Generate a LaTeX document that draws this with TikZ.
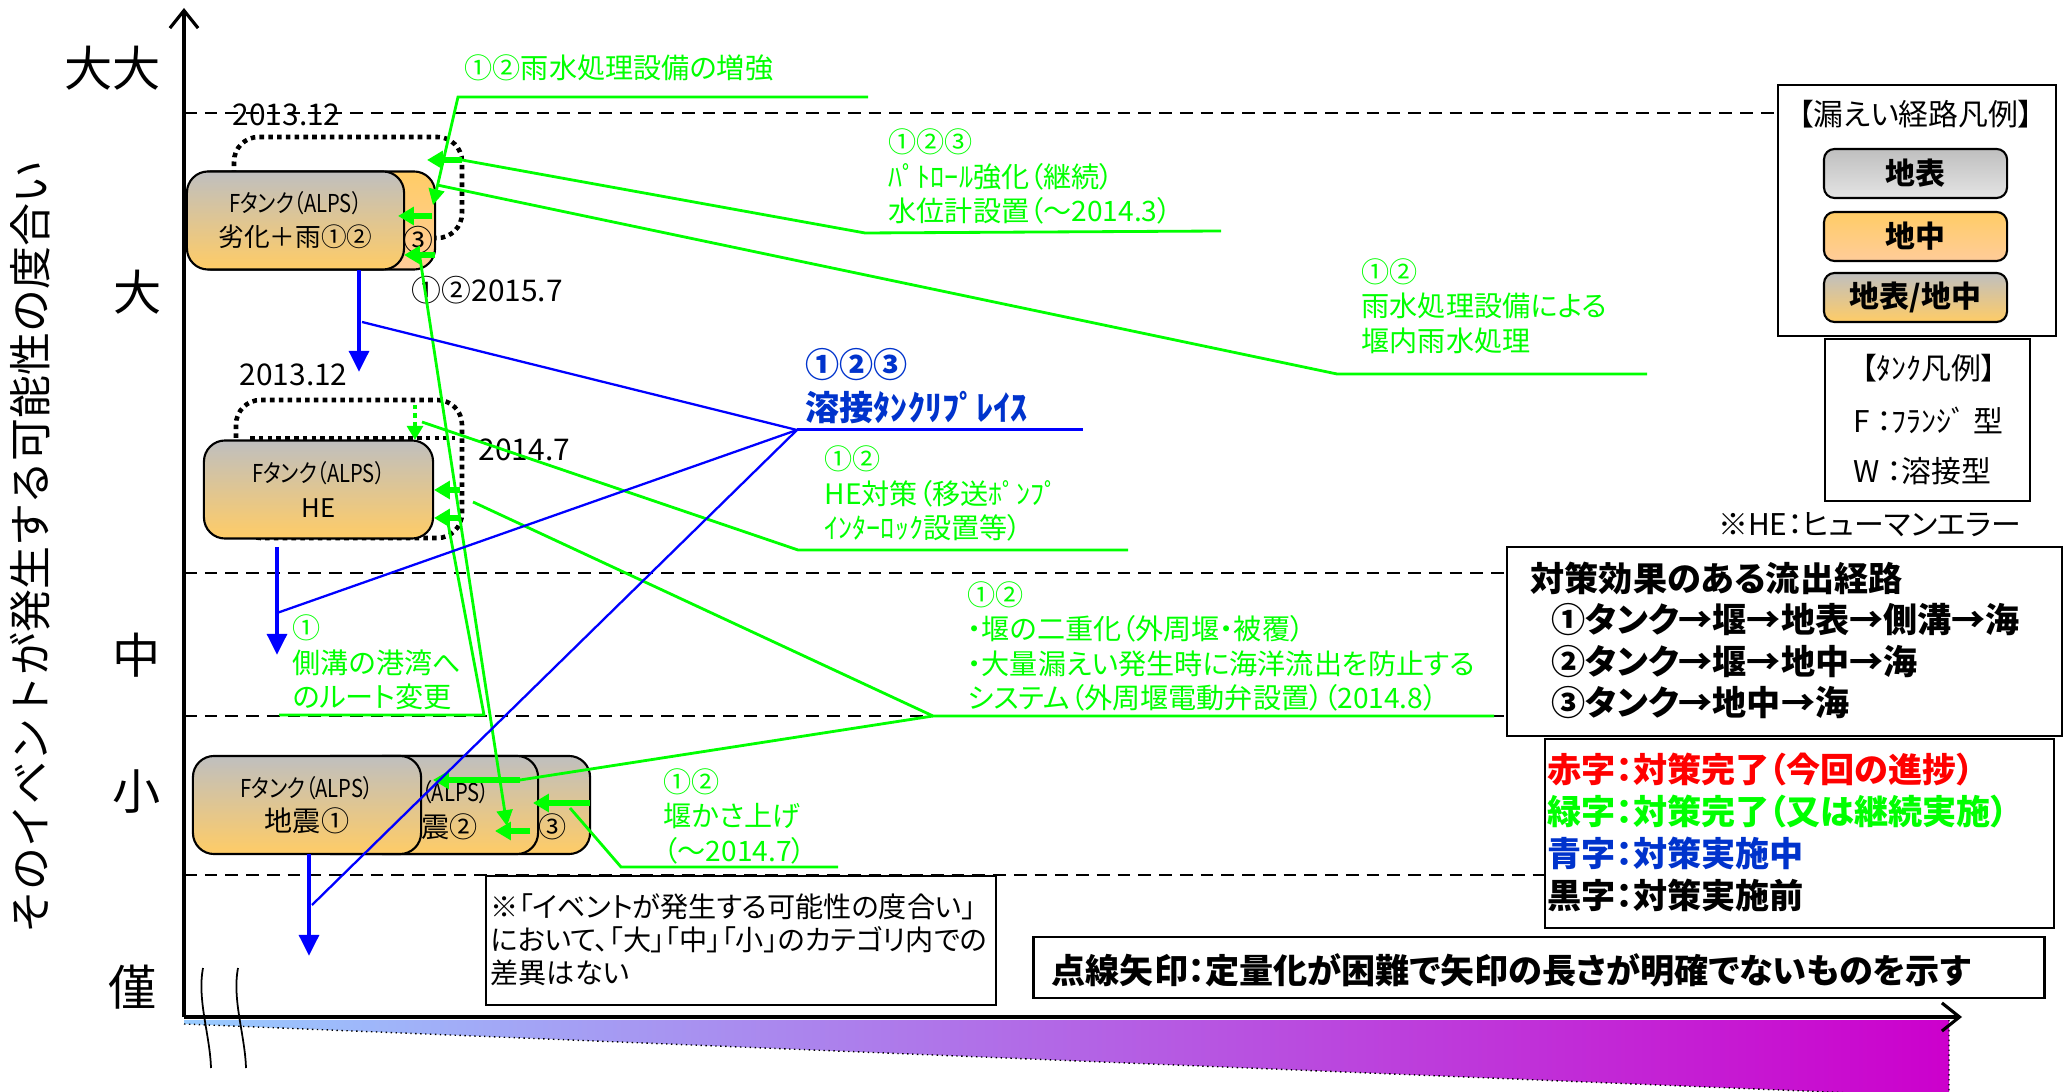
\documentclass[tikz,border=0pt]{standalone}
\usepackage{fontspec}
\newfontfamily\jp[RawFeature=+palt]{Noto Sans CJK JP}
\newfontfamily\jpfix{Noto Sans CJK JP}
\newfontfamily\jpnarrow[RawFeature=+palt, FakeStretch=0.82]{Noto Sans CJK JP}
\usetikzlibrary{arrows.meta, positioning}

\definecolor{lgreen}{RGB}{0,255,0}
\definecolor{dblue}{RGB}{0,0,255}
\definecolor{tblue}{RGB}{0,51,204}
\definecolor{tkgray}{RGB}{191,191,191}
\definecolor{tkorange}{RGB}{255,204,102}
\definecolor{tkpeach}{RGB}{255,204,153}
\definecolor{lggray}{RGB}{228,228,228}
\definecolor{wedgeL}{RGB}{153,204,255}
\definecolor{wedgeR}{RGB}{204,0,204}

\newcommand{\tkhead}{\jpnarrow\fontsize{7}{9.7}\selectfont}

\tikzset{
  lvl/.style={font=\jpfix\fontsize{13.7}{16}\selectfont, inner sep=0pt},
  dtext/.style={font=\jp\fontsize{8.5}{10}\selectfont, inner sep=0pt},
  gtext/.style={font=\jp\fontsize{8}{9.8}\selectfont, text=lgreen, inner sep=0pt, anchor=west, align=left},
  btext/.style={font=\jp\bfseries\fontsize{9.7}{11.9}\selectfont, inner sep=0pt, anchor=west, align=left},
  tank/.style={draw, line width=0.6pt, rounded corners=6pt, top color=tkgray, bottom color=tkorange,
    minimum height=0.98cm, inner sep=0pt, align=center, font=\jp\fontsize{7.3}{9.7}\selectfont},
  legbox/.style={draw, line width=0.6pt, rounded corners=3pt, minimum width=1.83cm, minimum height=0.49cm,
    inner sep=0pt, font=\jp\bfseries\fontsize{8.5}{10}\selectfont},
  box/.style={draw, line width=0.7pt, fill=white, inner sep=0pt},
  gline/.style={draw=lgreen, line width=0.8pt},
  garrow/.style={draw=lgreen, line width=1.6pt, -{Triangle[length=4.5pt, width=5pt]}},
  bline/.style={draw=dblue, line width=0.65pt},
  barrow/.style={draw=dblue, line width=1.4pt, -{Triangle[length=6pt, width=5.5pt]}},
  dashline/.style={line width=0.75pt, dash pattern=on 3.6pt off 2.3pt},
  dotbox/.style={line width=1.3pt, dash pattern=on 1.3pt off 1.2pt, rounded corners=7pt},
  axisline/.style={line width=0.9pt, -{Straight Barb[length=5pt, width=8pt]}}
}

\begin{document}
\begin{tikzpicture}[x=0.01cm, y=-0.01cm]
  \useasboundingbox (0,0) rectangle (2067,1092);

  % Time wedge under the axis
  \begin{scope}
    \clip (0,0) rectangle (2067,1092);
    \shade[left color=wedgeL, right color=wedgeR] (184,1020) -- (1949,1020) -- (1949,1097) -- (184,1024) -- cycle;
    \draw[densely dotted, line width=0.4pt] (184,1024) -- (1949,1097) (1949,1020) -- (1949,1097);
  \end{scope}

  % Axes
  \coordinate (O) at (184,1017);
  \coordinate (ytop) at (184,8);
  \coordinate (xend) at (1962,1017);
  \draw[axisline] (O) -- (ytop);
  \draw[axisline] (O) -- (xend);
  \draw[line width=0.5pt] (203,968) .. controls (197,1000) and (210,1035) .. (211,1068);
  \draw[line width=0.5pt] (238,968) .. controls (232,1000) and (245,1035) .. (246,1068);

  \node[rotate=90, font=\jpfix\fontsize{12.2}{14}\selectfont, inner sep=0pt] (ytitle) at (30,547) {そのイベントが発生する可能性の度合い};
  \node[lvl] (lvDD) at (113,68) {大大};
  \node[lvl] (lvD) at (138,292) {大};
  \node[lvl] (lvM) at (137,655) {中};
  \node[lvl] (lvS) at (137,792) {小};
  \node[lvl] (lvN) at (133,987) {僅};

  % Legends and notes
  \node[box, minimum width=2.78cm, minimum height=2.51cm] (lgd) at (1917,210.5) {};
  \node[box, minimum width=2.05cm, minimum height=1.62cm] (tlg) at (1927.5,420) {};
  \node[box, minimum width=5.55cm, minimum height=1.89cm] (eff) at (1784.5,641.5) {};
  \node[box, minimum width=5.09cm, minimum height=1.89cm] (col) at (1799.5,833.5) {};

  % Level lines
  \coordinate (dl1) at (184,113);
  \coordinate (dl2) at (184,573);
  \coordinate (dl3) at (184,716);
  \coordinate (dl4) at (184,875);
  \draw[dashline] (dl1) -- (dl1 -| lgd.west);
  \draw[dashline] (dl2) -- (dl2 -| eff.west);
  \draw[dashline] (dl3) -- (dl3 -| eff.west);
  \draw[dashline] (dl4) -- (dl4 -| col.west);

  \node[box, minimum width=5.10cm, minimum height=1.29cm] (note) at (741,940.5) {};
  \node[box, minimum width=10.10cm, minimum height=0.61cm] (dotnote) at (1539,967.5) {};

  \node[dtext] (lgdT) at (1916,114) {【漏えい経路凡例】};
  \node[legbox, top color=tkgray, bottom color=lggray] (lgS) at (1915.5,173.5) {地表};
  \node[legbox, top color=tkorange, bottom color=tkpeach] (lgU) at (1915.5,236.5) {地中};
  \node[legbox, top color=tkgray, bottom color=tkorange] (lgB) at (1915.5,297.5) {地表/地中};
  \node[dtext] (tlgT) at (1929,368) {【ﾀﾝｸ凡例】};
  \node[dtext, anchor=west] (tlgF) at (1853,420) {F ：ﾌﾗﾝｼﾞ 型};
  \node[dtext, anchor=west] (tlgW) at (1853,471) {W ：溶接型};
  \node[dtext, anchor=east] (heNote) at (2022,525) {※HE：ヒューマンエラー};

  \node[btext] (effT) at (1530,578) {対策効果のある流出経路};
  \node[btext] (eff1) at (1551,620) {①タンク→堰→地表→側溝→海};
  \node[btext] (eff2) at (1551,662) {②タンク→堰→地中→海};
  \node[btext] (eff3) at (1551,703) {③タンク→地中→海};

  \node[btext, text=red] (colR) at (1547,770) {赤字：対策完了（今回の進捗）};
  \node[btext, text=lgreen] (colG) at (1547,812) {緑字：対策完了（又は継続実施）};
  \node[btext, text=tblue] (colB) at (1547,853) {青字：対策実施中};
  \node[btext] (colK) at (1547,895) {黒字：対策実施前};

  \node[dtext, anchor=west, align=left, font=\jp\fontsize{8}{9.4}\selectfont] (noteT) at (490,940)
    {※「イベントが発生する可能性の度合い」\\において、「大」「中」「小」のカテゴリ内での\\差異はない};
  \node[btext] (dotnoteT) at (1051,970) {点線矢印：定量化が困難で矢印の長さが明確でないものを示す};

  % Tanks
  \draw[dotbox] (234,137) rectangle (462,238);
  \node[tank, top color=tkorange, bottom color=tkpeach, minimum width=2.45cm] (tkAb) at (312.5,220.5) {};
  \node[dtext] (tkAn) at (418,240) {③};
  \node[tank, minimum width=2.17cm] (tkA) at (295.5,220.5) {{\tkhead Fタンク（ALPS）}\\劣化＋雨①②};

  \draw[dotbox] (236,400) rectangle (462,538);
  \draw[dotbox] (250,438) -- (455,438);
  \node[tank, minimum width=2.29cm] (tkB) at (318.5,489.5) {{\tkhead Fタンク（ALPS）}\\HE};

  \node[tank, minimum width=2.28cm] (tkC3) at (476,805) {};
  \node[dtext, font=\jp\fontsize{8}{9.8}\selectfont] (tkC3n) at (553,827) {③};
  \node[tank, minimum width=2.28cm] (tkC2) at (424,805) {};
  \node[inner sep=0pt, anchor=west, font=\tkhead] (tkC2a) at (421,792) {（ALPS）};
  \node[inner sep=0pt, anchor=west, font=\jp\fontsize{8}{9.7}\selectfont] (tkC2b) at (421,827) {震②};
  \node[tank, minimum width=2.28cm, font=\jp\fontsize{8}{9.7}\selectfont] (tkC1) at (307,805) {{\tkhead Fタンク（ALPS）}\\地震①};

  % Dates
  \node[dtext, anchor=west] (dA1) at (232,115) {2013.12};
  \node[dtext, anchor=west] (dA2) at (411,290) {①②2015.7};
  \node[dtext, anchor=west] (dB1) at (239,375) {2013.12};
  \node[dtext, anchor=west] (dB2) at (478,450) {2014.7};

  % Measures
  \node[gtext] (nA) at (464,68) {①②雨水処理設備の増強};
  \node[gtext] (nB) at (888,176.5) {①②③\\ﾊﾟﾄﾛｰﾙ強化（継続）\\水位計設置（～2014.3）};
  \node[gtext] (nC) at (1361,306) {①②\\雨水処理設備による\\堰内雨水処理};
  \node[btext, text=tblue, font=\jp\bfseries\fontsize{9.7}{12.2}\selectfont] (nW) at (805,386.5) {①②③\\溶接ﾀﾝｸﾘﾌﾟﾚｲｽ};
  \node[gtext] (nD) at (824,493.5) {①②\\HE対策（移送ﾎﾟﾝﾌﾟ\\ｲﾝﾀｰﾛｯｸ設置等）};
  \node[gtext] (nE) at (967,646.5) {①②\\・堰の二重化（外周堰・被覆）\\・大量漏えい発生時に海洋流出を防止する\\システム（外周堰電動弁設置）（2014.8）};
  \node[gtext] (nF) at (292,662.5) {①\\側溝の港湾へ\\のルート変更};
  \node[gtext] (nG) at (663,816) {①②\\堰かさ上げ\\（～2014.7）};

  % Green leaders
  \coordinate (gA1) at (868,97);  \coordinate (gA2) at (458,97);  \coordinate (gA3) at (433,205);
  \draw[gline, -{Triangle[length=4.5pt, width=4.5pt]}] (gA1) -- (gA2) -- (gA3);
  \coordinate (aA1) at (432,216); \coordinate (aA2) at (398,216);
  \draw[garrow] (aA1) -- (aA2);

  \coordinate (gB1) at (1221,231); \coordinate (gB2) at (865,233); \coordinate (gB3) at (462,160); \coordinate (gB4) at (427,160);
  \draw[gline] (gB1) -- (gB2) -- (gB3);
  \draw[garrow] (gB3) -- (gB4);

  \coordinate (gC1) at (1647,374); \coordinate (gC2) at (1337,374); \coordinate (gC3) at (437,185);
  \draw[gline] (gC1) -- (gC2) -- (gC3);

  \coordinate (aD1) at (435,255); \coordinate (aD2) at (404,255);
  \draw[garrow] (aD1) -- (aD2);
  \coordinate (gD1) at (420,258); \coordinate (gD2) at (507,826);
  \draw[gline, -{Triangle[length=4.5pt, width=4.5pt]}] (gD1) -- (gD2);
  \coordinate (aD3) at (530,831); \coordinate (aD4) at (495,831);
  \draw[garrow] (aD3) -- (aD4);

  \coordinate (gE1) at (1128,550); \coordinate (gE2) at (798,550); \coordinate (gE3) at (422,422);
  \draw[gline] (gE1) -- (gE2) -- (gE3);
  \coordinate (aE1) at (415,405); \coordinate (aE2) at (415,440);
  \draw[draw=lgreen, line width=1.4pt, dash pattern=on 1.2pt off 1.2pt, -{Triangle[length=4pt, width=4.5pt]}] (aE1) -- (aE2);

  \coordinate (gF0) at (1494,716); \coordinate (gF1) at (933,716); \coordinate (gF2) at (473,502); \coordinate (gF3) at (520,780);
  \draw[gline] (gF0) -- (gF1) -- (gF2);
  \draw[gline] (gF1) -- (gF3);
  \coordinate (aF1) at (460,490); \coordinate (aF2) at (434,490);
  \draw[garrow] (aF1) -- (aF2);
  \coordinate (aF4) at (433,780);
  \draw[garrow] (gF3) -- (aF4);

  \coordinate (gG1) at (279,715); \coordinate (gG2) at (484,715); \coordinate (gG3) at (447,518);
  \draw[gline] (gG1) -- (gG2) -- (gG3);
  \coordinate (aG1) at (460,518); \coordinate (aG2) at (434,518);
  \draw[garrow] (aG1) -- (aG2);

  \coordinate (gH1) at (838,867); \coordinate (gH2) at (621,867); \coordinate (gH3) at (570,808);
  \draw[gline] (gH1) -- (gH2) -- (gH3);
  \coordinate (aH1) at (590,803); \coordinate (aH2) at (533,803);
  \draw[garrow] (aH1) -- (aH2);

  % Blue: welded tank replacement
  \coordinate (bA0) at (359,270); \coordinate (bA1) at (359,372);
  \coordinate (bB0) at (277,547); \coordinate (bB1) at (277,655);
  \coordinate (bC0) at (309,854); \coordinate (bC1) at (309,956);
  \draw[barrow] (bA0) -- (bA1);
  \draw[barrow] (bB0) -- (bB1);
  \draw[barrow] (bC0) -- (bC1);
  \coordinate (bJ) at (797,430); \coordinate (bJe) at (1083,430);
  \coordinate (bA) at (362,322); \coordinate (bB) at (277,613); \coordinate (bC) at (312,905);
  \draw[bline, line width=0.85pt] (bJ) -- (bJe);
  \draw[bline] (bA) -- (bJ);
  \draw[bline] (bB) -- (bJ);
  \draw[bline] (bC) -- (bJ);
\end{tikzpicture}
\end{document}
